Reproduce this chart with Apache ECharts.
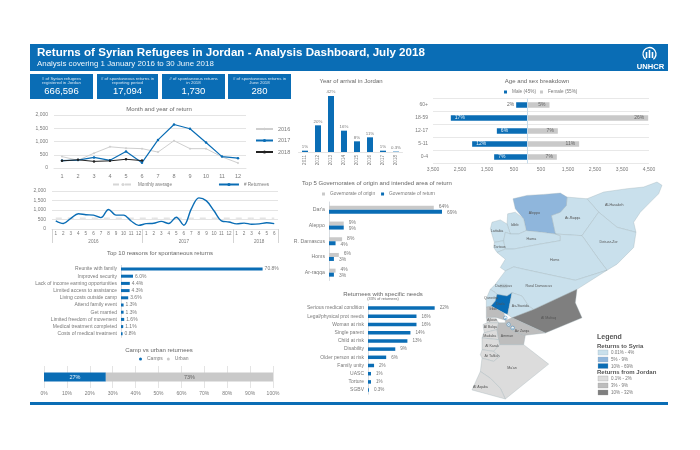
<!DOCTYPE html>
<html><head><meta charset="utf-8">
<style>html,body{margin:0;padding:0;background:#fff}#c{width:700px;height:450px;filter:blur(0.4px)}</style>
<script src="https://cdn.jsdelivr.net/npm/echarts@6/dist/echarts.min.js"></script>
</head><body><div id="c"></div>
<script>
const BLUE='#0a6db5', GREY='#c9c9c9', TXT='#7a7a7a', LINE='#e4e4e4';
const FONT='"Liberation Sans", Arial, sans-serif';

const headerTitle='Returns of Syrian Refugees in Jordan - Analysis Dashboard, July 2018';
const headerSub='Analysis covering 1 January 2016 to 30 June 2018';
const kpiLine1=['# of Syrian refugees','# of spontaneous returns in','# of spontaneous returns','# of spontaneous returns in'];
const kpiLine2=['registered in Jordan','reporting period','in 2018','June 2018'];
const kpiValue=['666,596','17,094','1,730','280'];

const months=[1,2,3,4,5,6,7,8,9,10,11,12];
const ret2016=[430,290,560,800,750,730,600,1030,730,730,420,190];
const ret2017=[280,300,400,290,620,200,1060,1640,1480,960,430,370];
const ret2018=[270,310,250,270,330,280];

const timelineMonths=[1,2,3,4,5,6,7,8,9,10,11,12,1,2,3,4,5,6,7,8,9,10,11,12,1,2,3,4,5,6];
const timelineAvg=[570,570,570,570,570,570,570,570,570,570,570,570,570,570,570,570,570,570,570,570,570,570,570,570,570,570,570,570,570,570];
const yearLabels=['2016','2017','2018'];

const reasonNames=['Reunite with family','Improved security','Lack of income earning opportunities','Limited access to assistance','Living costs outside camp','Attend family event','Get married','Limited freedom of movement','Medical treatment completed','Costs of medical treatment'];
const reasonValues=[70.8,6.0,4.4,4.3,3.6,1.3,1.3,1.6,1.1,0.8];

const campShare=[27], urbanShare=[73];

const arrivalYears=['2011','2012','2013','2014','2015','2016','2017','2018'];
const arrivalValues=[1,20,42,16,8,11,1,0.3];

const ageGroups=['60+','18-59','12-17','5-11','0-4'];
const maleCounts=[420,2840,1135,2050,1235];
const femaleCounts=[815,4470,1123,1913,1086];
const malePct=['2%','17%','6%','12%','7%'];
const femalePct=['5%','26%','7%','11%','7%'];

const govNames=["Dar'a",'Aleppo','R. Damascus','Homs','Ar-raqqa'];
const govOrigin=[64,9,8,6,4];
const govReturn=[69,9,4,3,3];

const needNames=['Serious medical condition','Legal/physical prot needs','Woman at risk','Single parent','Child at risk','Disability','Older person at risk','Family unity','UASC','Torture','SGBV'];
const needValues=[22,16,16,14,13,9,6,2,1,1,0.3];

const legendSyria=['0.01% - 4%','5% - 9%','10% - 69%'];
const legendJordan=['0.1% - 2%','3% - 9%','10% - 32%'];
const colSyria=['#c9e0ec','#8fb6dc','#0a6db5'];
const colJordan=['#dcdcdc','#bdbdbd','#7f7f7f'];

// outline sketch of the governorates: name, class colour, label anchor, ring
const regions=[
 ['Al-Hasakeh',colSyria[0],[432,74],[[350,55],[400,35],[470,25],[520,20],[560,5],[575,15],[565,40],[540,65],[510,95],[490,125],[497,155],[440,140],[385,95]]],
 ['Ar-Raqqa',colSyria[0],[307,113],[[290,50],[350,55],[385,95],[335,165],[255,160],[243,105],[270,95],[288,75]]],
 ['Aleppo',colSyria[1],[192,97],[[128,55],[170,45],[220,42],[270,38],[290,50],[288,75],[270,95],[243,105],[255,160],[215,155],[168,150],[160,115],[135,85]]],
 ['Deir-ez-Zor',colSyria[0],[415,185],[[385,95],[440,140],[497,155],[490,200],[440,250],[410,268],[385,235],[335,165]]],
 ['Idleb',colSyria[0],[133,132],[[112,100],[135,95],[160,115],[168,150],[145,160],[120,160],[110,130]]],
 ['Lattakia',colSyria[0],[80,150],[[65,125],[90,118],[110,130],[120,160],[105,155],[100,180],[72,185],[60,145]]],
 ['Tartous',colSyria[0],[88,200],[[72,185],[100,180],[105,205],[80,215],[70,200]]],
 ['Hama',colSyria[0],[183,176],[[105,155],[120,160],[145,160],[168,150],[215,155],[255,160],[270,165],[270,180],[210,190],[130,205],[105,205],[100,180]]],
 ['Homs',colSyria[0],[253,238],[[80,215],[105,205],[130,205],[210,190],[270,180],[270,165],[255,160],[335,165],[385,235],[410,268],[315,298],[230,280],[160,265],[130,258],[105,270],[90,260],[105,235]]],
 ['Rural Damascus',colSyria[0],[205,316],[[75,310],[105,270],[130,258],[160,265],[230,280],[315,298],[410,268],[320,325],[190,385],[175,375],[155,345],[125,335],[110,345],[80,340],[75,335],[60,325]]],
 ['Damascus',colSyria[0],[100,315],[[90,310],[110,310],[110,320],[90,320]]],
 ['Quneitra',colSyria[0],[62,352],[[48,352],[60,325],[75,335],[80,340],[75,360],[62,375],[48,378]]],
 ["Dar'a",colSyria[2],[90,368],[[80,340],[110,345],[125,335],[120,360],[112,400],[100,395],[62,375],[75,360]]],
 ['As-Sweida',colSyria[0],[150,375],[[125,335],[155,345],[175,375],[190,385],[125,410],[112,400],[120,360]]],
 ['Irbid',colJordan[1],[68,385],[[48,378],[62,375],[100,395],[108,418],[75,408],[48,410]]],
 ['Al Mafraq',colJordan[2],[235,410],[[320,325],[315,365],[335,410],[225,455],[125,410],[190,385]]],
 ['Ajloun',colJordan[0],[65,417],[[48,410],[75,408],[85,425],[50,425]]],
 ['Al Balqa',colJordan[0],[60,437],[[38,430],[50,425],[85,425],[80,445],[42,455]]],
 ['Madaba',colJordan[0],[58,465],[[40,455],[80,445],[85,475],[35,470]]],
 ['Amman',colJordan[1],[110,465],[[85,425],[105,425],[130,450],[165,462],[160,490],[88,490],[85,475],[80,445]]],
 ['Az Zarqa',colJordan[1],[155,450],[[105,418],[125,410],[225,455],[165,462],[130,450],[105,425]]],
 ['Al Karak',colJordan[0],[65,495],[[35,470],[85,475],[88,490],[70,510],[35,505]]],
 ['At Tafilah',colJordan[0],[65,525],[[35,505],[70,510],[88,525],[70,540],[35,530],[30,520]]],
 ["Ma'an",colJordan[0],[125,560],[[88,490],[160,490],[235,548],[105,652],[90,620],[60,590],[30,570],[35,530],[70,540],[88,525],[70,510]]],
 ['Al Aqaba',colJordan[0],[30,615],[[30,570],[60,590],[90,620],[105,652],[5,625]]]
];
const campSites=[[105,410,'1'],[115,430,'2'],[127,440,'3']];

const geojson={type:'FeatureCollection',features:regions.map(r=>({type:'Feature',
  properties:{name:r[0],cp:[r[2][0],-r[2][1]]},
  geometry:{type:'Polygon',coordinates:[r[3].concat([r[3][0]]).map(p=>[p[0],-p[1]])]}}))};
echarts.registerMap('sj',geojson);

const ticks=(s,o)=>Object.assign({color:TXT,fontSize:s,fontFamily:FONT},o||{});
const hiddenVal=(g,o)=>Object.assign({type:'value',gridIndex:g,show:false,splitLine:{show:false}},o);
const catY=(g,d,s)=>({type:'category',gridIndex:g,inverse:true,data:d,axisTick:{show:false},axisLine:{lineStyle:{color:'#d8dde2',width:1}},axisLabel:ticks(s,{margin:4})});
const head=(t,x,y,s,c)=>({text:t,left:x,top:y,padding:0,textAlign:'center',textStyle:{fontSize:s||6,fontWeight:'normal',color:c||'#666',fontFamily:FONT}});

const gfx=[];
gfx.push({type:'rect',shape:{x:30,y:44,width:638,height:27},style:{fill:BLUE}});
gfx.push({type:'rect',shape:{x:30,y:402,width:638,height:3},style:{fill:BLUE}});
gfx.push({type:'text',x:37,y:47,style:{text:headerTitle,fill:'#fff',fontSize:11.6,fontWeight:'bold',fontFamily:FONT}});
gfx.push({type:'text',x:37,y:60,style:{text:headerSub,fill:'#eef5fa',fontSize:7.9,fontFamily:FONT}});
// emblem
gfx.push({type:'arc',shape:{cx:649.5,cy:54,r:6.5,startAngle:Math.PI*0.7,endAngle:Math.PI*2.3},style:{fill:'none',stroke:'#fff',lineWidth:1.3}});
[646.5,649.5,652.5].forEach((x,i)=>gfx.push({type:'rect',shape:{x:x-.8,y:i===1?50:52,width:1.6,height:i===1?8:6},style:{fill:'#fff'}}));
gfx.push({type:'text',x:650.5,y:63,style:{text:'UNHCR',fill:'#fff',fontSize:7.6,fontWeight:'bold',fontFamily:FONT,align:'center'}});
const kpiX=[[30,63],[97,61],[162,63],[228,63]];
kpiValue.forEach((v,i)=>{
  const [x,w]=kpiX[i],cx=x+w/2;
  gfx.push({type:'rect',shape:{x:x,y:74,width:w,height:25},style:{fill:BLUE}});
  gfx.push({type:'text',x:cx,y:76.5,style:{text:kpiLine1[i],fill:'#d5e5f2',fontSize:4.4,align:'center',fontFamily:FONT}});
  gfx.push({type:'text',x:cx,y:81,style:{text:kpiLine2[i],fill:'#d5e5f2',fontSize:4.4,align:'center',fontFamily:FONT}});
  gfx.push({type:'text',x:cx,y:86,style:{text:v,fill:'#fff',fontSize:9.5,align:'center',fontFamily:FONT}});
});
// map legend
gfx.push({type:'text',x:597,y:334,style:{text:'Legend',fill:'#555',fontSize:7,fontWeight:'bold',fontFamily:FONT}});
gfx.push({type:'text',x:597,y:343,style:{text:'Returns to Syria',fill:'#555',fontSize:6,fontWeight:'bold',fontFamily:FONT}});
gfx.push({type:'text',x:597,y:369,style:{text:'Returns from Jordan',fill:'#555',fontSize:6,fontWeight:'bold',fontFamily:FONT}});
[350,357,363.5].forEach((y,i)=>{
  gfx.push({type:'rect',shape:{x:598,y:y,width:10,height:5},style:{fill:colSyria[i],stroke:'#9ab',lineWidth:.3}});
  gfx.push({type:'text',x:611,y:y+.5,style:{text:legendSyria[i],fill:'#777',fontSize:4.5,fontFamily:FONT}});
});
[376,383,390].forEach((y,i)=>{
  gfx.push({type:'rect',shape:{x:598,y:y,width:10,height:5},style:{fill:colJordan[i],stroke:'#999',lineWidth:.3}});
  gfx.push({type:'text',x:611,y:y+.5,style:{text:legendJordan[i],fill:'#777',fontSize:4.5,fontFamily:FONT}});
});

const option={
 animation:false,backgroundColor:'#fff',textStyle:{fontFamily:FONT},
 title:[
  head('Month and year of return',159,106),
  head('Top 10 reasons for spontaneous returns',160,250),
  head('Camp vs urban returnees',159,347),
  head('Year of arrival in Jordan',351,78),
  head('Age and sex breakdown',537,78),
  head('Top 5 Governorates of origin and intended area of return',377,180),
  head('Returnees with specific needs',383,291),
  head('(33% of returnees)',383,297,3.8)
 ],
 legend:[
  {padding:0,orient:'vertical',left:255,top:126,itemGap:5.5,itemWidth:17,itemHeight:4,textStyle:ticks(5.5),data:['2016','2017','2018']},
  {padding:0,left:112,top:182,itemGap:46,itemWidth:20,itemHeight:4,textStyle:ticks(4.6),data:['Monthly average','# Returnees']},
  {padding:0,left:139,top:356.5,itemGap:4,itemWidth:3,itemHeight:3,icon:'circle',textStyle:ticks(5),data:['Camps','Urban']},
  {padding:0,left:504,top:89.5,itemGap:4,itemWidth:3,itemHeight:3,icon:'rect',textStyle:ticks(4.7),data:['Male (45%)','Female (55%)']},
  {padding:0,left:322,top:191.5,itemGap:6,itemWidth:3,itemHeight:3,icon:'rect',textStyle:ticks(4.8),data:['Governorate of origin','Governorate of return']}
 ],
 grid:[
  {left:54,top:115,width:192,height:53},
  {left:52,top:191,width:226,height:38},
  {left:121,top:265.4,width:160,height:72},
  {left:44,top:366,width:229,height:22},
  {left:298.5,top:92,width:104,height:60},
  {left:433,top:98.5,width:216,height:65},
  {left:329,top:202,width:131,height:78.5},
  {left:368,top:304,width:100,height:90.2}
 ],
 xAxis:[
  {type:'category',gridIndex:0,data:months,axisTick:{show:false},axisLine:{lineStyle:{color:LINE}},axisLabel:ticks(5.5,{margin:5})},
  {type:'category',gridIndex:1,data:timelineMonths,axisTick:{show:false},axisLine:{lineStyle:{color:LINE}},axisLabel:ticks(4.6,{margin:2.5,interval:0})},
  {type:'category',gridIndex:1,position:'bottom',data:timelineMonths,axisLine:{show:false},
   axisTick:{show:true,length:14,lineStyle:{color:'#d4d4d4'},interval:i=>i===0||i===12||i===24},
   axisLabel:ticks(4.6,{margin:10,interval:i=>i===5||i===17||i===27,
     formatter:(v,i)=>i===5?yearLabels[0]:i===17?yearLabels[1]:yearLabels[2]})},
  hiddenVal(2,{min:0,max:80}),
  {type:'value',gridIndex:3,min:0,max:100,interval:10,axisLine:{show:false},axisTick:{show:false},
   splitLine:{lineStyle:{color:LINE}},axisLabel:ticks(5,{margin:3,formatter:'{value}%'})},
  {type:'category',gridIndex:4,data:arrivalYears,axisTick:{show:false},axisLine:{lineStyle:{color:LINE}},axisLabel:ticks(4.6,{rotate:90,margin:3})},
  {type:'value',gridIndex:5,min:-3500,max:4500,interval:500,axisLine:{show:false},axisTick:{show:false},splitLine:{show:false},
   axisLabel:ticks(5,{margin:4,formatter:v=>(Math.abs(v)/500)%2===1?Math.abs(v).toLocaleString('en-US'):''})},
  hiddenVal(6,{min:0,max:80}),
  hiddenVal(7,{min:0,max:33})
 ],
 yAxis:[
  {type:'value',gridIndex:0,min:0,max:2000,interval:500,axisLine:{show:false},axisTick:{show:false},splitLine:{lineStyle:{color:LINE}},
   axisLabel:ticks(5,{margin:6,formatter:v=>v.toLocaleString('en-US')})},
  {type:'value',gridIndex:1,min:0,max:2000,interval:500,axisLine:{show:false},axisTick:{show:false},splitLine:{lineStyle:{color:LINE}},
   axisLabel:ticks(5,{margin:6,formatter:v=>v.toLocaleString('en-US')})},
  catY(2,reasonNames,5),
  {type:'category',gridIndex:3,data:['Returnees'],show:false},
  {type:'value',gridIndex:4,min:0,max:45,show:false,splitLine:{show:false}},
  {type:'category',gridIndex:5,inverse:true,data:ageGroups,axisLine:{show:false,onZero:false},axisTick:{show:false},
   splitLine:{show:true,lineStyle:{color:'#e8e8e8'}},axisLabel:ticks(5,{margin:5})},
  catY(6,govNames,5.2),
  catY(7,needNames,5)
 ],
 geo:{map:'sj',left:472,top:182,width:190,height:217,aspectScale:1,roam:false,silent:true,
  itemStyle:{areaColor:colSyria[0],borderColor:'#9fb0b8',borderWidth:.35},
  label:{show:true,fontSize:3.6,color:'#555',fontFamily:FONT},
  regions:regions.map(r=>({name:r[0],itemStyle:{areaColor:r[1]},label:{show:true,fontSize:3.6,color:'#555'}}))},
 series:[
  {name:'2016',type:'line',xAxisIndex:0,yAxisIndex:0,data:ret2016,symbol:'diamond',symbolSize:2.5,lineStyle:{width:1,color:'#cfcfcf'},itemStyle:{color:'#cfcfcf'}},
  {name:'2017',type:'line',xAxisIndex:0,yAxisIndex:0,data:ret2017,symbol:'circle',symbolSize:2.5,lineStyle:{width:1.2,color:BLUE},itemStyle:{color:BLUE}},
  {name:'2018',type:'line',xAxisIndex:0,yAxisIndex:0,data:ret2018,symbol:'circle',symbolSize:2.5,lineStyle:{width:1,color:'#222'},itemStyle:{color:'#222'}},
  {name:'Monthly average',type:'line',xAxisIndex:1,yAxisIndex:1,data:timelineAvg,symbol:'none',lineStyle:{width:1,color:'#d6d6d6',type:[6,6]},itemStyle:{color:'#d6d6d6'}},
  {name:'# Returnees',type:'line',xAxisIndex:1,yAxisIndex:1,data:ret2016.concat(ret2017,ret2018),smooth:.35,symbol:'none',lineStyle:{width:1.4,color:BLUE},itemStyle:{color:BLUE}},
  {type:'bar',xAxisIndex:3,yAxisIndex:2,data:reasonValues,barWidth:3,itemStyle:{color:BLUE},
   label:{show:true,position:'right',distance:2,formatter:p=>p.value.toFixed(1)+'%',fontSize:5,color:TXT}},
  {name:'Camps',type:'bar',stack:'cu',xAxisIndex:4,yAxisIndex:3,data:campShare,barWidth:9,itemStyle:{color:BLUE},
   label:{show:true,position:'inside',formatter:'{c}%',fontSize:5.5,color:'#e8f1f8'}},
  {name:'Urban',type:'bar',stack:'cu',xAxisIndex:4,yAxisIndex:3,data:urbanShare,barWidth:9,itemStyle:{color:GREY},
   label:{show:true,position:'inside',formatter:'{c}%',fontSize:5.5,color:'#666'}},
  {type:'bar',xAxisIndex:5,yAxisIndex:4,data:arrivalValues,barWidth:6,itemStyle:{color:BLUE},
   label:{show:true,position:'top',distance:2,formatter:'{c}%',fontSize:4.4,color:TXT}},
  {name:'Male (45%)',type:'bar',stack:'age',xAxisIndex:6,yAxisIndex:5,barWidth:5.5,itemStyle:{color:BLUE},
   data:maleCounts.map((v,i)=>i===0?{value:-v,label:{position:'left',distance:2,color:'#666'}}:-v),
   label:{show:true,position:'insideLeft',distance:4,fontSize:5,color:'#e8f1f8',formatter:p=>malePct[p.dataIndex]},
   markLine:{silent:true,symbol:'none',label:{show:false},lineStyle:{color:'#c6dcec',type:'solid',width:1},data:[{xAxis:0}]}},
  {name:'Female (55%)',type:'bar',stack:'age',xAxisIndex:6,yAxisIndex:5,data:femaleCounts,barWidth:5.5,itemStyle:{color:GREY},
   label:{show:true,position:'insideRight',distance:4,fontSize:5,color:'#666',formatter:p=>femalePct[p.dataIndex]}},
  {name:'Governorate of origin',type:'bar',xAxisIndex:7,yAxisIndex:6,data:govOrigin,barWidth:4,barGap:0,itemStyle:{color:GREY},
   label:{show:true,position:'right',distance:5,formatter:'{c}%',fontSize:5,color:TXT,offset:[0,-1]}},
  {name:'Governorate of return',type:'bar',xAxisIndex:7,yAxisIndex:6,data:govReturn,barWidth:4,barGap:0,itemStyle:{color:BLUE},
   label:{show:true,position:'right',distance:5,formatter:'{c}%',fontSize:5,color:TXT,offset:[0,1]}},
  {type:'bar',xAxisIndex:8,yAxisIndex:7,data:needValues,barWidth:3.5,itemStyle:{color:BLUE},
   label:{show:true,position:'right',distance:5,formatter:'{c}%',fontSize:4.6,color:TXT}},
  {type:'scatter',coordinateSystem:'geo',data:campSites.map(s=>[s[0],-s[1],s[2]]),symbolSize:3.5,silent:true,
   itemStyle:{color:'#fff',borderColor:BLUE,borderWidth:.5},
   label:{show:true,position:'inside',formatter:p=>p.value[2],fontSize:2.5,color:BLUE}}
 ],
 graphic:{elements:gfx}
};
echarts.init(document.getElementById('c'),null,{renderer:'canvas'}).setOption(option);
</script></body></html>
